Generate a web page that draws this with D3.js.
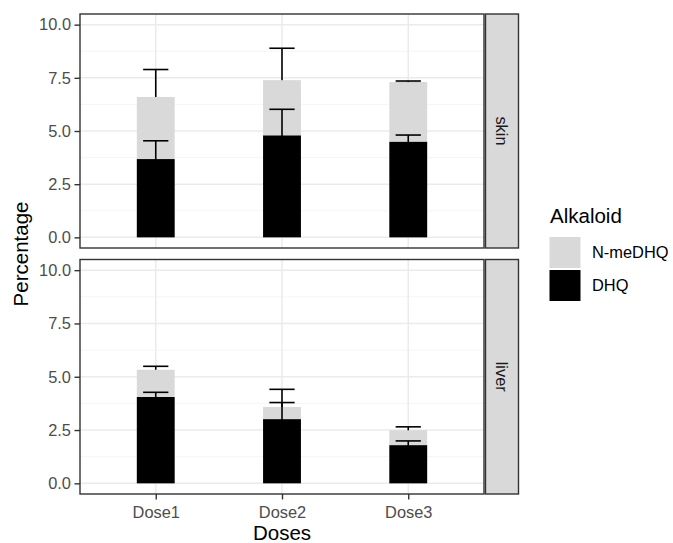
<!DOCTYPE html>
<html>
<head>
<meta charset="utf-8">
<script src="https://cdn.jsdelivr.net/npm/d3@7"></script>
<style>
  html, body { margin: 0; padding: 0; background: #fff; }
  svg { display: block; font-family: "Liberation Sans", Arial, sans-serif; }
</style>
</head>
<body>
<svg id="chart" width="673" height="543"></svg>
<script>
  const doses = ['Dose1', 'Dose2', 'Dose3'];
  const tissues = ['skin', 'liver'];
  const alkaloids = ['N-meDHQ', 'DHQ'];
  const yTicks = [0, 2.5, 5, 7.5, 10];
  const yMinor = [1.25, 3.75, 6.25, 8.75];

  // DHQ (bottom) and N-meDHQ (stacked on top), with standard errors
  const dhqSkin = [3.68, 4.79, 4.49];
  const dhqSkinSe = [0.86, 1.23, 0.32];
  const nmeSkin = [2.92, 2.60, 2.81];
  const nmeSkinSe = [1.29, 1.50, 0.05];
  const dhqLiver = [4.05, 3.01, 1.79];
  const dhqLiverSe = [0.22, 0.78, 0.20];
  const nmeLiver = [1.28, 0.57, 0.70];
  const nmeLiverSe = [0.16, 0.83, 0.16];

  const fills = { 'N-meDHQ': '#d9d9d9', 'DHQ': '#000000' };

  const panels = [
    { tissue: 'skin', top: 14, bottom: 248, dhq: dhqSkin, dhqSe: dhqSkinSe, nme: nmeSkin, nmeSe: nmeSkinSe },
    { tissue: 'liver', top: 259.5, bottom: 494, dhq: dhqLiver, dhqSe: dhqLiverSe, nme: nmeLiver, nmeSe: nmeLiverSe }
  ];

  const left = 80, right = 484;
  const stripL = 485.5, stripR = 518.5;
  const svg = d3.select('#chart');

  const x = d3.scalePoint().domain(doses).range([left, right]).padding(0.6);
  const step = x.step();
  const barW = step * 0.3;
  const capW = step * 0.2;

  function errorbar(g, y, cx, lo, hi) {
    const eb = g.append('g').attr('stroke', '#000').attr('stroke-width', 1.6).attr('fill', 'none');
    eb.append('line').attr('x1', cx).attr('x2', cx).attr('y1', y(lo)).attr('y2', y(hi));
    [lo, hi].forEach(v => {
      eb.append('line').attr('x1', cx - capW / 2).attr('x2', cx + capW / 2).attr('y1', y(v)).attr('y2', y(v));
    });
  }

  panels.forEach((p, pi) => {
    const y = d3.scaleLinear().domain([-0.5, 10.5]).range([p.bottom, p.top]);
    const g = svg.append('g');

    g.append('rect').attr('x', left).attr('y', p.top).attr('width', right - left).attr('height', p.bottom - p.top).attr('fill', '#fff');

    g.selectAll('line.minor').data(yMinor).join('line')
      .attr('x1', left).attr('x2', right).attr('y1', d => y(d)).attr('y2', d => y(d))
      .attr('stroke', '#f2f2f2').attr('stroke-width', 0.8);
    g.selectAll('line.majory').data(yTicks).join('line')
      .attr('x1', left).attr('x2', right).attr('y1', d => y(d)).attr('y2', d => y(d))
      .attr('stroke', '#ebebeb').attr('stroke-width', 1.5);
    g.selectAll('line.majorx').data(doses).join('line')
      .attr('x1', d => x(d)).attr('x2', d => x(d)).attr('y1', p.top).attr('y2', p.bottom)
      .attr('stroke', '#ebebeb').attr('stroke-width', 1.5);

    // total error bars sit under the bars
    doses.forEach((d, i) => {
      const tot = p.dhq[i] + p.nme[i];
      errorbar(g, y, x(d), tot - p.nmeSe[i], tot + p.nmeSe[i]);
    });

    doses.forEach((d, i) => {
      const tot = p.dhq[i] + p.nme[i];
      g.append('rect').attr('x', x(d) - barW / 2).attr('width', barW)
        .attr('y', y(tot)).attr('height', y(p.dhq[i]) - y(tot)).attr('fill', fills['N-meDHQ']);
      g.append('rect').attr('x', x(d) - barW / 2).attr('width', barW)
        .attr('y', y(p.dhq[i])).attr('height', y(0) - y(p.dhq[i])).attr('fill', fills['DHQ']);
    });

    doses.forEach((d, i) => {
      errorbar(g, y, x(d), p.dhq[i] - p.dhqSe[i], p.dhq[i] + p.dhqSe[i]);
    });

    g.append('rect').attr('x', left).attr('y', p.top).attr('width', right - left).attr('height', p.bottom - p.top)
      .attr('fill', 'none').attr('stroke', '#333').attr('stroke-width', 1.4);

    const ax = g.append('g').attr('transform', `translate(${left},0)`)
      .call(d3.axisLeft(y).tickValues(yTicks).tickFormat(d3.format('.1f')).tickSize(5.5).tickPadding(3.5));
    ax.select('.domain').remove();
    ax.selectAll('.tick line').attr('stroke', '#333').attr('stroke-width', 1.4);
    ax.selectAll('.tick text').attr('fill', '#4d4d4d').style('font-size', '16.4px')
      .style('font-family', '"Liberation Sans", Arial, sans-serif');

    // strip
    g.append('rect').attr('x', stripL).attr('y', p.top).attr('width', stripR - stripL).attr('height', p.bottom - p.top)
      .attr('fill', '#d9d9d9').attr('stroke', '#333').attr('stroke-width', 1.4);
    g.append('text')
      .attr('transform', `translate(${(stripL + stripR) / 2},${(p.top + p.bottom) / 2}) rotate(90)`)
      .attr('text-anchor', 'middle').attr('dy', '0.35em')
      .attr('fill', '#1a1a1a').style('font-size', '16.4px')
      .text(p.tissue);

    if (pi === panels.length - 1) {
      const xa = g.append('g').attr('transform', `translate(0,${p.bottom})`)
        .call(d3.axisBottom(x).tickSize(5.5).tickPadding(7));
      xa.select('.domain').remove();
      xa.selectAll('.tick line').attr('stroke', '#333').attr('stroke-width', 1.4);
      xa.selectAll('.tick text').attr('fill', '#4d4d4d').style('font-size', '16.4px')
        .style('font-family', '"Liberation Sans", Arial, sans-serif');
    }
  });

  // axis titles
  svg.append('text').attr('x', (left + right) / 2).attr('y', 540).attr('text-anchor', 'middle')
    .style('font-size', '20.5px').attr('fill', '#000').text('Doses');
  svg.append('text').attr('transform', `translate(27.5,254) rotate(-90)`).attr('text-anchor', 'middle')
    .style('font-size', '20.5px').attr('fill', '#000').text('Percentage');

  // legend
  const lg = svg.append('g');
  lg.append('text').attr('x', 550).attr('y', 223.3).style('font-size', '20.5px').attr('fill', '#000').text('Alkaloid');
  alkaloids.forEach((a, i) => {
    const ky = 237 + i * 33;
    lg.append('rect').attr('x', 549.5).attr('y', ky).attr('width', 31).attr('height', 31).attr('fill', fills[a]);
    lg.append('text').attr('x', 592).attr('y', ky + 15.5).attr('dy', '0.35em')
      .style('font-size', '16.4px').attr('fill', '#000').text(a);
  });
</script>
</body>
</html>
